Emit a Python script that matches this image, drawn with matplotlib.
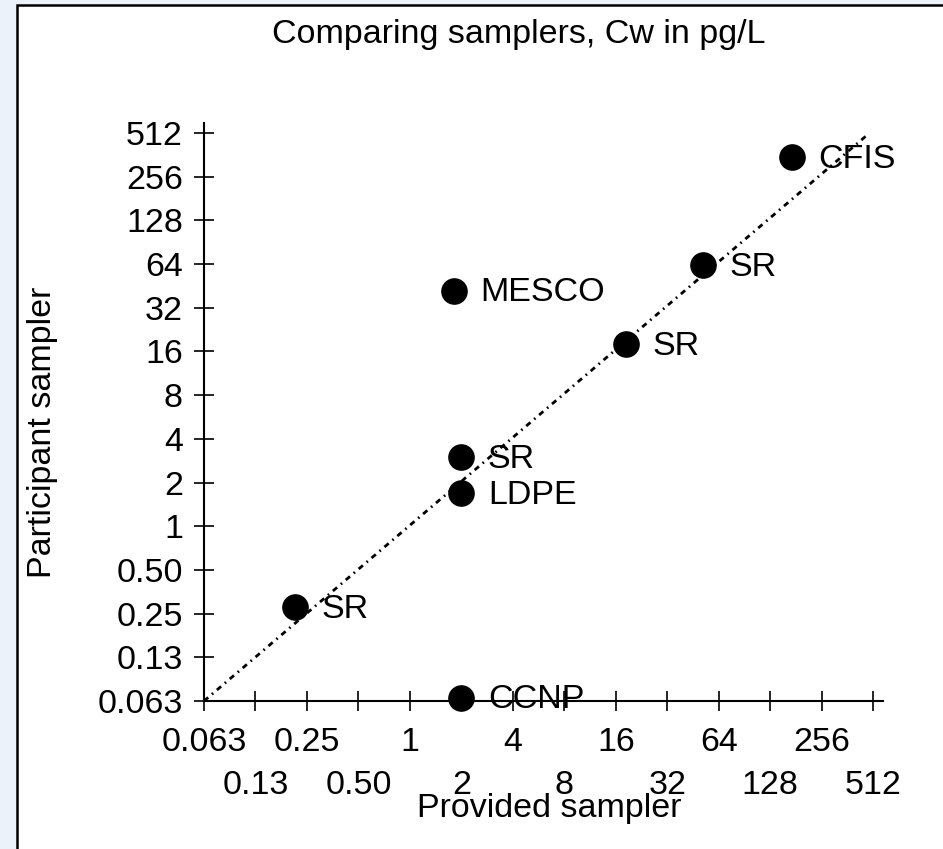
import numpy as np
import matplotlib
matplotlib.use('Agg')
import matplotlib.pyplot as plt
from matplotlib.patches import Rectangle
from matplotlib.ticker import FixedLocator, FixedFormatter, NullLocator

plt.rcParams['font.family'] = ['Liberation Sans', 'DejaVu Sans']
plt.rcParams['lines.scale_dashes'] = False

# data (pg/L)
names = ['CFIS', 'SR', 'MESCO', 'SR', 'SR', 'LDPE', 'SR', 'CCNP']
provided = [172, 52, 1.81, 18.4, 2.0, 2.0, 0.213, 2.0]
participant = [350, 63, 42, 18, 3.0, 1.69, 0.277, 0.066]
fit_x = [0.0625, 471]
fit_y = [0.0625, 495]

tick_vals = [0.0625, 0.125, 0.25, 0.5, 1, 2, 4, 8, 16, 32, 64, 128, 256, 512]
tick_labels = ['0.063', '0.13', '0.25', '0.50', '1', '2', '4', '8', '16', '32',
               '64', '128', '256', '512']

FS = 24.5
W, H = 943, 849
fig = plt.figure(figsize=(W / 100, H / 100), dpi=100, facecolor='#ecf2fa')
fig.patches.append(Rectangle((17 / W, -0.1), 1.1, 1.1 - 5 / H, transform=fig.transFigure,
                             facecolor='white', edgecolor='black', lw=1.8, zorder=0))

ax = fig.add_axes([204 / W, 1 - 701 / H, (883 - 204) / W, (701 - 123) / H])
ax.set_zorder(2)
ax.patch.set_alpha(0)
ax.set_xscale('log', base=2)
ax.set_yscale('log', base=2)
ax.set_xlim(0.0625, 2 ** 9.19)
ax.set_ylim(0.0625, 2 ** 9.23)

for s in ['top', 'right']:
    ax.spines[s].set_visible(False)
for s in ['left', 'bottom']:
    ax.spines[s].set_linewidth(1.5)

# y axis: all labels in one column
ax.yaxis.set_major_locator(FixedLocator(tick_vals))
ax.yaxis.set_major_formatter(FixedFormatter(tick_labels))
ax.yaxis.set_minor_locator(NullLocator())
ax.tick_params(axis='y', which='major', direction='inout', length=14.5, width=1.2,
               labelsize=FS, pad=8)

# x axis: labels staggered in two rows
ax.xaxis.set_major_locator(FixedLocator(tick_vals[0::2]))
ax.xaxis.set_major_formatter(FixedFormatter(tick_labels[0::2]))
ax.xaxis.set_minor_locator(FixedLocator(tick_vals[1::2]))
ax.xaxis.set_minor_formatter(FixedFormatter(tick_labels[1::2]))
ax.tick_params(axis='x', which='major', direction='inout', length=15, width=1.2,
               labelsize=FS, pad=11)
ax.tick_params(axis='x', which='minor', direction='inout', length=15, width=1.2,
               labelsize=FS, pad=42)

ax.plot(fit_x, fit_y, color='black', lw=2, dashes=(4, 3.5, 1.2, 3.5), zorder=2, clip_on=False)
ax.scatter(provided, participant, s=330, color='black', zorder=3, clip_on=False)
for n, x, y in zip(names, provided, participant):
    ax.annotate(n, (x, y), xytext=(19, -1.5), textcoords='offset points',
                ha='left', va='center', fontsize=FS, zorder=4)

fig.text(519 / W, 1 - 35 / H, 'Comparing samplers, Cw in pg/L', ha='center', va='center',
         fontsize=FS)
fig.text(43 / W, 1 - 432 / H, 'Participant sampler', rotation=90, ha='center', va='center',
         fontsize=FS)
fig.text(549 / W, 1 - 809 / H, 'Provided sampler', ha='center', va='center', fontsize=FS)

fig.savefig('out.png', dpi=100, facecolor=fig.get_facecolor())
